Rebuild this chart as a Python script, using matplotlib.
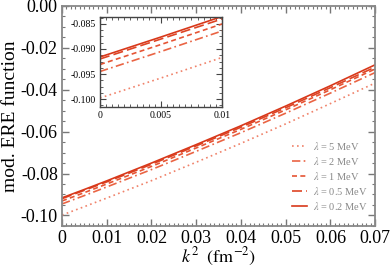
import matplotlib
matplotlib.use("Agg")
import matplotlib.pyplot as plt
from matplotlib.ticker import MultipleLocator, AutoMinorLocator

plt.rcParams['font.family'] = 'Liberation Serif'
plt.rcParams['mathtext.fontset'] = 'stix'

# data
k2 = [0.0, 0.005, 0.01, 0.02, 0.03, 0.04, 0.05, 0.06, 0.07]
ere_5 = [-0.0998, -0.0958, -0.0917, -0.0834, -0.0746, -0.0656, -0.0563, -0.0466, -0.0368]
ere_2 = [-0.0945, -0.0905, -0.0864, -0.0781, -0.0694, -0.0605, -0.0512, -0.0416, -0.0318]
ere_1 = [-0.0931, -0.0891, -0.0850, -0.0766, -0.0678, -0.0589, -0.0496, -0.0400, -0.0301]
ere_05 = [-0.0920, -0.0880, -0.0840, -0.0756, -0.0668, -0.0579, -0.0486, -0.0390, -0.0292]
ere_02 = [-0.0916, -0.0876, -0.0835, -0.0750, -0.0662, -0.0572, -0.0478, -0.0381, -0.0281]

labels = [r"$\lambda$ = 5 MeV", r"$\lambda$ = 2 MeV", r"$\lambda$ = 1 MeV",
          r"$\lambda$ = 0.5 MeV", r"$\lambda$ = 0.2 MeV"]
series = [ere_5, ere_2, ere_1, ere_05, ere_02]
colors = ['#f0826a', '#ea6444', '#e55434', '#de4424', '#d8381a']
styles = [(0, (1, 2)), (0, (5, 2, 1, 2)), (0, (3, 2)), (0, (6, 2.5)), '-']


def fmt2(v, p):
    if abs(v) < 1e-9:
        return "0.00"
    return "%.2f" % v


fig = plt.figure(figsize=(3.9, 2.68), dpi=100)
ax = fig.add_axes([0.159, 0.157, 0.803, 0.821])

for y, lab, c, ls in zip(series, labels, colors, styles):
    ax.plot(k2, y, color=c, ls=ls, lw=1.2, label=lab)

ax.set_xlim(0, 0.07)
ax.set_ylim(-0.105, 0.0)
ax.xaxis.set_major_locator(MultipleLocator(0.01))
ax.xaxis.set_minor_locator(MultipleLocator(0.001))
ax.yaxis.set_major_locator(MultipleLocator(0.02))
ax.yaxis.set_minor_locator(MultipleLocator(0.005))
ax.xaxis.set_major_formatter(lambda v, p: "0" if abs(v) < 1e-9 else "%.2f" % v)
ax.yaxis.set_major_formatter(fmt2)
ax.tick_params(which='both', direction='in', top=True, right=True, color='#777777')
ax.tick_params(which='major', length=5, width=1, labelsize=13, pad=3)
ax.tick_params(which='minor', length=2.5, width=0.8)
for s in ax.spines.values():
    s.set_color('#888888')
    s.set_linewidth(1.3)
ax.set_xlabel(r"$k^2\ \ (\mathrm{fm}^{-2})$", fontsize=13, labelpad=-1)
ax.set_ylabel("mod. ERE function", fontsize=14, labelpad=1)

leg = ax.legend(loc='lower right', bbox_to_anchor=(1.0, 0.03), frameon=False,
                fontsize=7.5, handlelength=1.4, handletextpad=0.6,
                labelspacing=0.3, borderaxespad=0.3)
for t in leg.get_texts():
    t.set_color('#888888')

# inset
ins = fig.add_axes([0.2564, 0.6007, 0.3128, 0.3359])
for y, c, ls in zip(series, colors, styles):
    ins.plot(k2, y, color=c, ls=ls, lw=1.2)
ins.set_xlim(0, 0.01)
ins.set_ylim(-0.1016, -0.0836)
ins.xaxis.set_major_locator(MultipleLocator(0.005))
ins.xaxis.set_minor_locator(MultipleLocator(0.0005))
ins.yaxis.set_major_locator(MultipleLocator(0.005))
ins.yaxis.set_minor_locator(AutoMinorLocator(4))
ins.xaxis.set_major_formatter(lambda v, p: "0" if abs(v) < 1e-9 else ("%.3f" % v).rstrip('0'))
ins.yaxis.set_major_formatter(lambda v, p: "%.3f" % v)
ins.tick_params(which='both', direction='in', top=True, right=True, color='#444444')
ins.tick_params(which='major', length=4, width=0.8, labelsize=7, pad=3)
ins.tick_params(which='minor', length=2, width=0.6)
for s in ins.spines.values():
    s.set_color('#444444')
    s.set_linewidth(1.0)

fig.savefig("out.png", dpi=100)
